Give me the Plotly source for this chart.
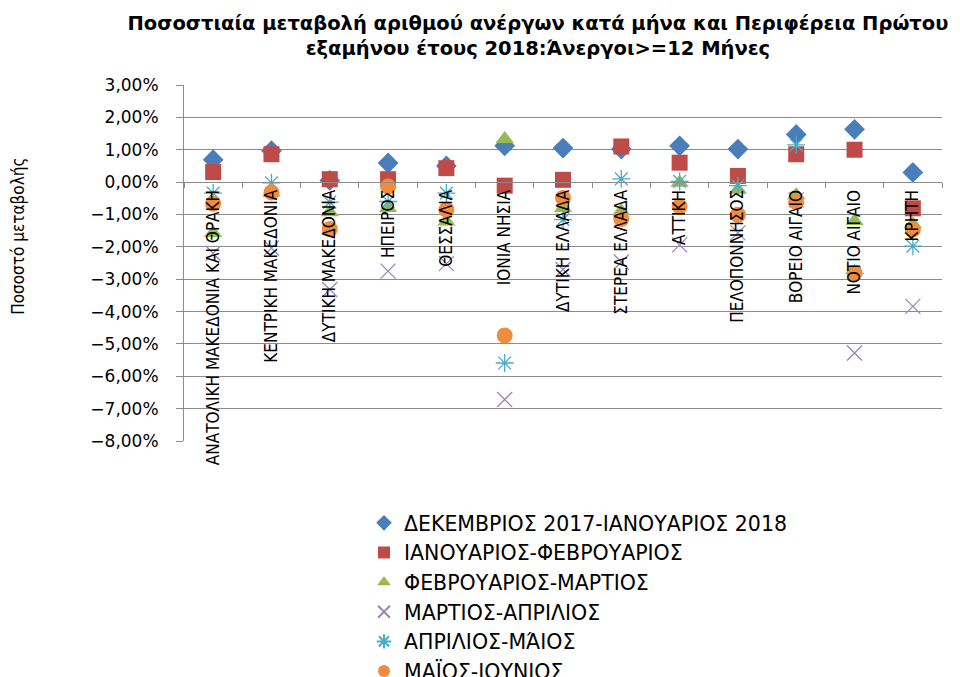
import plotly.graph_objects as go

# regions (x categories)
regions = [
    "ΑΝΑΤΟΛΙΚΗ ΜΑΚΕΔΟΝΙΑ ΚΑΙ ΘΡΑΚΗ", "ΚΕΝΤΡΙΚΗ ΜΑΚΕΔΟΝΙΑ", "ΔΥΤΙΚΗ ΜΑΚΕΔΟΝΙΑ",
    "ΗΠΕΙΡΟΣ", "ΘΕΣΣΑΛΙΑ", "ΙΟΝΙΑ ΝΗΣΙΑ", "ΔΥΤΙΚΗ ΕΛΛΑΔΑ", "ΣΤΕΡΕΑ ΕΛΛΑΔΑ",
    "ΑΤΤΙΚΗ", "ΠΕΛΟΠΟΝΝΗΣΟΣ", "ΒΟΡΕΙΟ ΑΙΓΑΙΟ", "ΝΟΤΙΟ ΑΙΓΑΙΟ", "ΚΡΗΤΗ",
]

# percentage change per pair of months (values in %)
dec_jan = [0.69, 0.97, 0.05, 0.59, 0.50, 1.12, 1.05, 1.02, 1.12, 1.02, 1.47, 1.63, 0.30]
jan_feb = [0.31, 0.86, 0.09, 0.09, 0.43, -0.11, 0.07, 1.10, 0.60, 0.19, 0.86, 1.00, -0.81]
feb_mar = [-1.57, -0.32, -0.93, -0.80, -1.22, 1.33, -0.80, -0.90, -0.02, -0.24, -0.41, -1.20, -1.30]
mar_apr = [-2.20, -2.04, -3.32, -2.75, -2.52, -6.72, -2.70, -2.47, -1.94, -1.57, -0.55, -5.28, -3.84]
apr_may = [-0.34, -0.02, -0.62, -0.60, -0.34, -5.59, -1.16, 0.10, 0.02, -0.11, 1.15, -2.82, -1.98]
may_jun = [-0.67, -0.32, -1.45, -0.14, -0.86, -4.74, -0.49, -1.14, -0.75, -1.01, -0.62, -2.81, -1.47]

series = [
    ("ΔΕΚΕΜΒΡΙΟΣ 2017-ΙΑΝΟΥΑΡΙΟΣ 2018", dec_jan, "diamond", "#4a7ebb"),
    ("ΙΑΝΟΥΑΡΙΟΣ-ΦΕΒΡΟΥΑΡΙΟΣ", jan_feb, "square", "#be4b48"),
    ("ΦΕΒΡΟΥΑΡΙΟΣ-ΜΑΡΤΙΟΣ", feb_mar, "triangle-up", "#98b954"),
    ("ΜΑΡΤΙΟΣ-ΑΠΡΙΛΙΟΣ", mar_apr, "x-thin-open", "#9a86bd"),
    ("ΑΠΡΙΛΙΟΣ-ΜΆΙΟΣ", apr_may, "asterisk-open", "#4bacc6"),
    ("ΜΑΪΟΣ-ΙΟΥΝΙΟΣ", may_jun, "circle", "#f08c3c"),
]

fig = go.Figure()
for i, (name, vals, sym, col) in enumerate(series):
    open_sym = sym.endswith("open")
    fig.add_trace(go.Scatter(
        x=regions, y=vals, mode="markers", name=name,
        legendgroup=str(i),
        marker=dict(symbol=sym, size=16 if not open_sym else 15, color=col,
                    line=dict(width=1.3 if open_sym else 0, color=col)),
    ))

# page body adds an 8px offset, plot area in the picture: x 184-942, y 85-441.5
L, T, W, H = 176, 77, 758, 356.5
grid = "#8c8c8c"
fig.update_layout(
    width=960, height=677,
    margin=dict(l=L, r=960 - L - W, t=T, b=677 - T - H, autoexpand=False),
    plot_bgcolor="white", paper_bgcolor="white",
    separators=",.",
    font=dict(family="DejaVu Sans, sans-serif", color="black"),
    title=dict(
        text="Ποσοστιαία μεταβολή αριθμού ανέργων κατά μήνα και Περιφέρεια Πρώτου<br>"
             "εξαμήνου έτους 2018:Άνεργοι>=12 Μήνες",
        x=0.552, xanchor="center", xref="container",
        y=1 - 22 / 677, yanchor="top", yref="container",
        font=dict(size=19.5, family="DejaVu Sans, sans-serif", weight="bold"),
        automargin=False,
    ),
    showlegend=True,
    legend=dict(
        xref="container", yref="container",
        x=356 / 960, xanchor="left", y=1 - 495 / 677, yanchor="top",
        font=dict(size=20.5, family="DejaVu Sans, sans-serif"),
        tracegroupgap=0, itemsizing="constant",
    ),
)

fig.update_yaxes(
    range=[-8, 3], dtick=1, tickformat=".2f", ticksuffix="%",
    showgrid=True, gridcolor=grid, gridwidth=1, zeroline=False,
    showline=True, linecolor=grid, ticks="outside", ticklen=7, tickcolor=grid,
    ticklabelstandoff=14,
    tickfont=dict(size=17, family="DejaVu Sans, sans-serif"),
    automargin=False,
)
fig.update_xaxes(
    type="category", range=[-0.5, 12.5],
    anchor="free", position=8 / 11,
    showline=True, linecolor=grid, showgrid=False,
    ticks="outside", ticklen=5, tickcolor=grid, tickson="boundaries",
    tickangle=-90, automargin=False,
    tickfont=dict(size=17, family="Liberation Sans Narrow, DejaVu Sans Condensed, sans-serif"),
)

fig.add_annotation(
    text="Ποσοστό μεταβολής", textangle=-90, showarrow=False,
    xref="paper", yref="paper", x=(10 - L) / W, y=(T + H - 229) / H,
    xanchor="center", yanchor="middle",
    font=dict(size=17, family="Liberation Sans Narrow, DejaVu Sans Condensed, sans-serif"),
)

fig.write_html("out.html")
